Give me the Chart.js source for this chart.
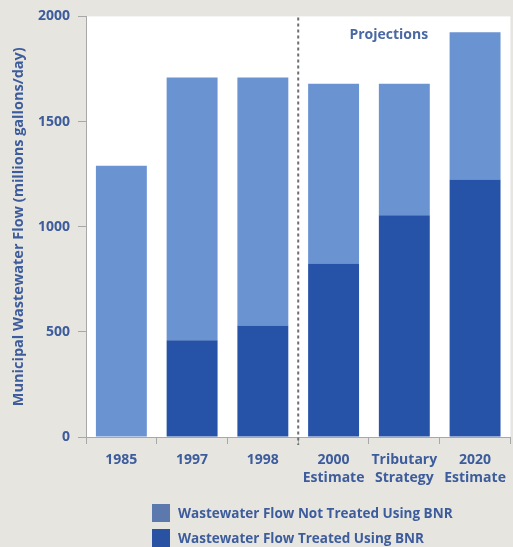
<!DOCTYPE html>
<html><head><meta charset="utf-8">
<script src="https://cdn.jsdelivr.net/npm/chart.js@4/dist/chart.umd.min.js"></script>
<style>
html,body{margin:0;padding:0;background:#e6e5e0;}
#wrap{position:relative;width:513px;height:547px;overflow:hidden;}
canvas{position:absolute;left:0;top:0;}
.leg{position:absolute;left:152px;font:700 13.5px "Open Sans",sans-serif;color:#3d5c9c;white-space:nowrap;}
.leg span.sw{position:absolute;left:0;top:0;width:18px;height:18px;}
.leg span.tx{position:absolute;left:26px;top:0;line-height:18px;}
</style></head>
<body><div id="wrap"><canvas id="c" width="513" height="547"></canvas>
<div class="leg" style="top:504px"><span class="sw" style="background:#5b79ad"></span><span class="tx">Wastewater Flow Not Treated Using BNR</span></div>
<div class="leg" style="top:529px"><span class="sw" style="background:#2a52a3"></span><span class="tx">Wastewater Flow Treated Using BNR</span></div>
</div>
<script>
const categories = [["1985"],["1997"],["1998"],["2000","Estimate"],["Tributary","Strategy"],["2020","Estimate"]];
const treated = [0, 460, 530, 825, 1055, 1225];
const notTreated = [1290, 1250, 1180, 855, 625, 700];
const yTicks = [0, 500, 1000, 1500, 2000];
const seriesNames = ["Wastewater Flow Not Treated Using BNR", "Wastewater Flow Treated Using BNR"];
const projectionsLabel = "Projections";
const yTitle = "Municipal Wastewater Flow (millions gallons/day)";

const textColor = '#3d5c9c';
const fontFam = '"Open Sans", sans-serif';

const bgPlugin = {
  id: 'plotbg',
  beforeDraw(chart){
    const {ctx, chartArea:a} = chart;
    ctx.save();
    ctx.fillStyle = '#ffffff';
    ctx.fillRect(a.left, a.top, a.right - a.left, a.bottom - a.top);
    ctx.restore();
  },
  afterDatasetsDraw(chart){
    const {ctx, chartArea:a, scales:{x}} = chart;
    const xm = (x.getPixelForValue(2) + x.getPixelForValue(3)) / 2;
    ctx.save();
    ctx.strokeStyle = '#6e6e72';
    ctx.lineWidth = 2;
    ctx.setLineDash([3,3]);
    ctx.beginPath();
    ctx.moveTo(xm, a.top + 1);
    ctx.lineTo(xm, a.bottom + 8);
    ctx.stroke();
    ctx.setLineDash([]);
    ctx.fillStyle = '#4a68a3';
    ctx.font = '700 14px ' + fontFam;
    ctx.textAlign = 'center';
    ctx.textBaseline = 'middle';
    ctx.fillText(projectionsLabel, x.getPixelForValue(3.78), a.top + 19);
    ctx.restore();
  }
};

new Chart(document.getElementById('c'), {
  type: 'bar',
  data: {
    labels: categories,
    datasets: [
      { label: seriesNames[1], data: treated, backgroundColor: '#2653a8', stack: 's', order: 1 },
      { label: seriesNames[0], data: notTreated, backgroundColor: '#6a93d2', stack: 's', order: 2 }
    ]
  },
  options: {
    responsive: false,
    animation: false,
    devicePixelRatio: 1,
    layout: { padding: { top: 15, right: 1, left: 0, bottom: 0 } },
    datasets: { bar: { categoryPercentage: 1.0, barPercentage: 0.72 } },
    plugins: { legend: { display: false }, tooltip: { enabled: false } },
    scales: {
      x: {
        stacked: true,
        border: { display: true, color: '#a8a8a8', width: 1 },
        grid: { drawOnChartArea: false, drawTicks: true, tickLength: 7, color: '#a8a8a8', offset: true },
        ticks: { color: textColor, font: { family: fontFam, size: 14, weight: '700', lineHeight: 1.3 }, padding: 7, maxRotation: 0, autoSkip: false },
        afterFit(s){ s.height = 110; }
      },
      y: {
        stacked: true,
        min: 0, max: 2000,
        afterBuildTicks(s){ s.ticks = yTicks.map(v => ({value: v})); },
        border: { display: true, color: '#a8a8a8', width: 1 },
        grid: { drawOnChartArea: false, drawTicks: true, tickLength: 8, color: '#a8a8a8' },
        ticks: { color: textColor, font: { family: fontFam, size: 14, weight: '700' }, padding: 8, callback: v => String(v) },
        title: { display: true, text: yTitle, color: textColor, font: { family: fontFam, size: 14.5, weight: '700' }, padding: { top: 10, bottom: 0 } },
        afterFit(s){ s.width = 86; }
      }
    }
  },
  plugins: [bgPlugin]
});
</script></body></html>
